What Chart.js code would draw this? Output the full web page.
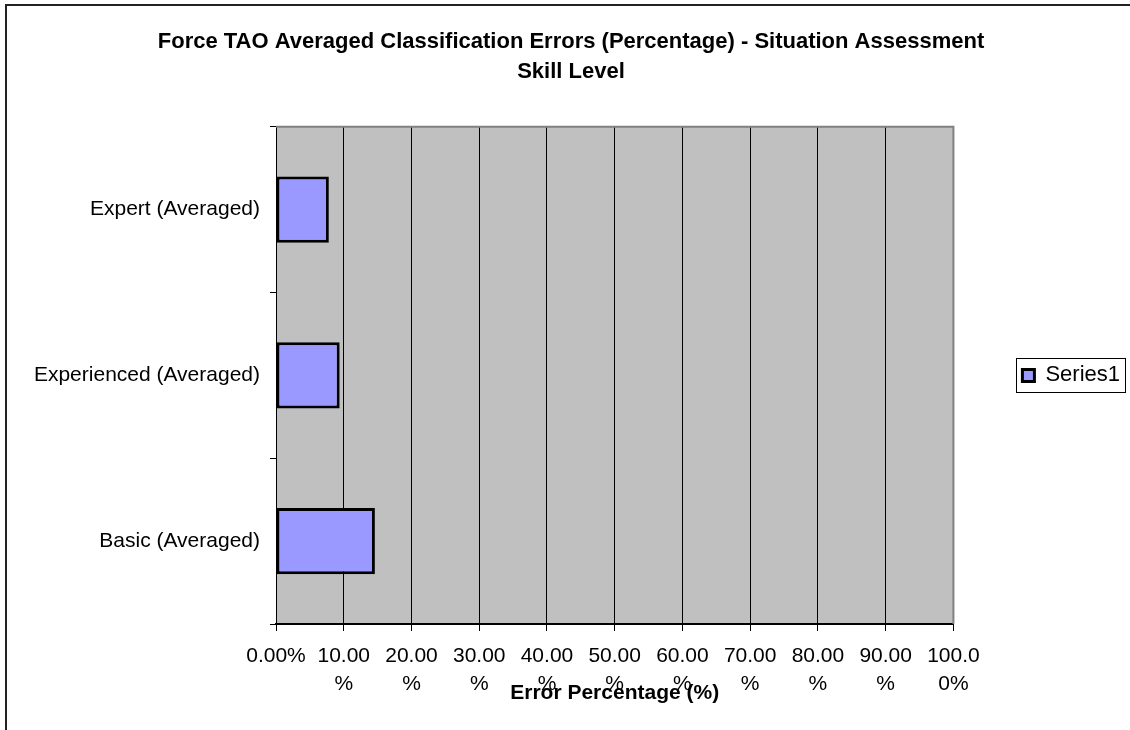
<!DOCTYPE html>
<html>
<head>
<meta charset="utf-8">
<script src="https://cdn.jsdelivr.net/npm/chart.js@4.4.1/dist/chart.umd.min.js"></script>
<style>
  html, body { margin: 0; padding: 0; background: #fff; }
  #wrap { width: 1130px; height: 730px; }
</style>
</head>
<body>
<div id="wrap"><canvas id="errorChart" width="1130" height="730"></canvas></div>
<script>
// chart data
const categories = ["Expert (Averaged)", "Experienced (Averaged)", "Basic (Averaged)"];
const errorValues = [7.8, 9.4, 14.6];
const seriesName = "Series1";
const xTickLabels = [
    "0.00%", ["10.00", "%"], ["20.00", "%"], ["30.00", "%"], ["40.00", "%"], ["50.00", "%"],
    ["60.00", "%"], ["70.00", "%"], ["80.00", "%"], ["90.00", "%"], ["100.0", "0%"],
];
const titleLines = ["Force TAO Averaged Classification Errors (Percentage) - Situation Assessment", "Skill Level"];
const xTitle = "Error Percentage (%)";

const FONT = "'Liberation Sans', Arial, sans-serif";

// gray plot background, plot border, legend box and outer frame
const chartDecor = {
    id: "chartDecor",
    beforeDraw(chart) {
        const { ctx, chartArea: a } = chart;
        ctx.save();
        ctx.fillStyle = "#C0C0C0";
        ctx.fillRect(a.left, a.top, a.right - a.left, a.bottom - a.top);
        ctx.restore();
    },
    beforeDatasetsDraw(chart) {
        const { ctx, chartArea: a } = chart;
        ctx.save();
        ctx.strokeStyle = "#808080";
        ctx.lineWidth = 2;
        ctx.beginPath();
        ctx.moveTo(a.left, a.top);
        ctx.lineTo(a.right, a.top);
        ctx.lineTo(a.right, a.bottom);
        ctx.stroke();
        ctx.restore();
    },
    afterDraw(chart) {
        const ctx = chart.ctx;
        ctx.save();
        const hb = chart.legend.legendHitBoxes[0];
        if (hb) {
            const cy = hb.top + hb.height / 2;
            const x0 = Math.round(hb.left - 6) + 0.5;
            const x1 = Math.round(hb.left + hb.width + 5) + 0.5;
            ctx.strokeStyle = "#000";
            ctx.lineWidth = 1;
            ctx.strokeRect(x0, Math.round(cy - 17) + 0.5, x1 - x0, 34);
        }
        ctx.strokeStyle = "#222";
        ctx.lineWidth = 2;
        ctx.beginPath();
        ctx.moveTo(6, 730);
        ctx.lineTo(6, 5);
        ctx.lineTo(1130, 5);
        ctx.stroke();
        ctx.restore();
    },
};

new Chart(document.getElementById("errorChart").getContext("2d"), {
    type: "bar",
    data: {
        labels: categories,
        datasets: [{
            label: seriesName,
            data: errorValues,
            backgroundColor: "#9999FF",
            borderColor: "#000000",
            borderWidth: 3,
            borderSkipped: false,
            categoryPercentage: 1,
            barPercentage: 0.4,
        }],
    },
    options: {
        indexAxis: "y",
        responsive: false,
        animation: false,
        layout: { padding: { left: 12, right: 0, top: 0, bottom: 0 } },
        plugins: {
            title: {
                display: true,
                text: titleLines,
                color: "#000",
                font: { family: FONT, size: 22, weight: "bold", lineHeight: 1.36 },
                padding: { top: 27, bottom: 40 },
            },
            legend: {
                display: true,
                position: "right",
                fullSize: false,
                labels: {
                    color: "#000",
                    font: { family: FONT, size: 22 },
                    boxWidth: 12,
                    boxHeight: 12,
                    padding: 69,
                },
            },
            tooltip: { enabled: false },
        },
        scales: {
            x: {
                min: 0,
                max: 100,
                ticks: {
                    stepSize: 10,
                    color: "#000",
                    padding: 11,
                    maxRotation: 0,
                    autoSkip: false,
                    font: { family: FONT, size: 21, lineHeight: 1.33 },
                    callback: (value, index) => xTickLabels[index],
                },
                grid: { color: "#000", lineWidth: 1, tickLength: 7, drawTicks: true },
                border: { color: "#000", width: 2 },
                title: {
                    display: true,
                    text: xTitle,
                    color: "#000",
                    font: { family: FONT, size: 21, weight: "bold" },
                    padding: { top: 0, bottom: 24 },
                },
                afterFit: (scale) => { scale.height = 106; },
            },
            y: {
                ticks: {
                    color: "#000",
                    padding: 10,
                    font: { family: FONT, size: 21 },
                },
                grid: { drawOnChartArea: false, color: "#000", tickLength: 6 },
                border: { color: "#000", width: 1 },
                afterFit: (scale) => { scale.width = 264; },
            },
        },
    },
    plugins: [chartDecor],
});
</script>
</body>
</html>
